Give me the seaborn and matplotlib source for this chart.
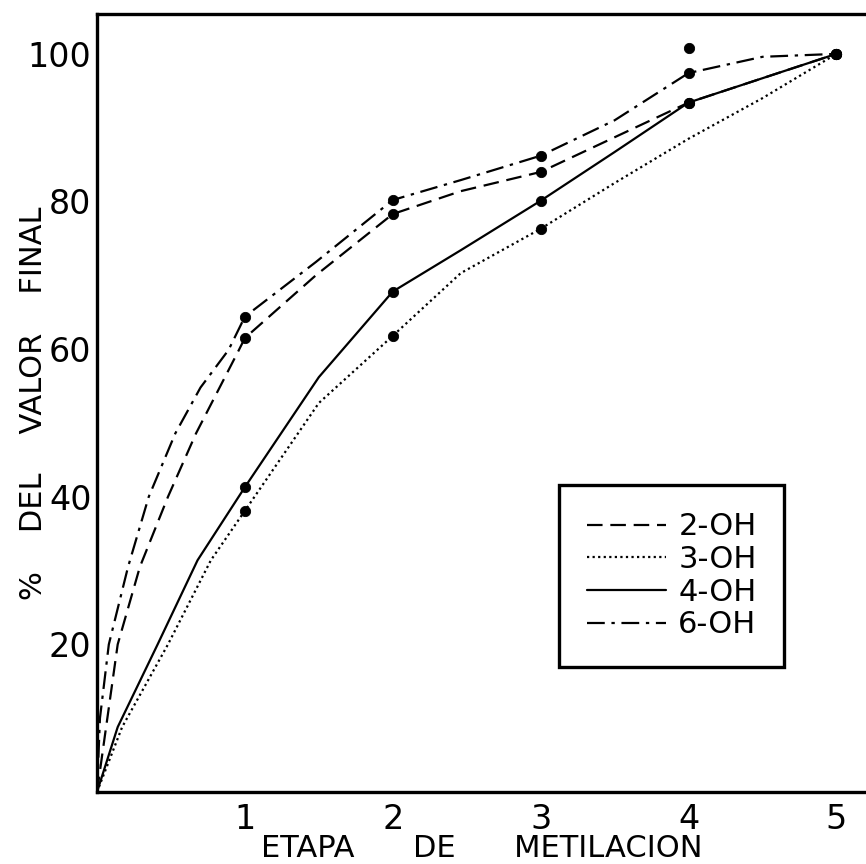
import pandas as pd
import seaborn as sns
import matplotlib.pyplot as plt
from matplotlib.lines import Line2D

# Curves (hand-drawn smooth lines)
x_2oh = [0, 0.07, 0.14, 0.29, 0.48, 0.67, 0.96, 1.0, 1.48, 2.0, 2.46, 3.0, 3.5, 4.0, 4.5, 5.0]
y_2oh = [0, 10, 20, 30.5, 40, 48.6, 59.9, 61.5, 70.0, 78.3, 81.4, 84.0, 88.7, 93.4, 96.7, 100]

x_3oh = [0, 0.17, 0.48, 0.77, 1.0, 1.5, 2.0, 2.46, 3.0, 3.5, 4.0, 4.5, 5.0]
y_3oh = [0, 8.8, 20, 31.4, 38.1, 52.7, 61.8, 70.3, 76.3, 82.5, 88.5, 94.0, 100]

x_4oh = [0, 0.14, 0.41, 0.68, 1.0, 1.5, 2.0, 2.46, 3.0, 3.5, 4.0, 4.5, 5.0]
y_4oh = [0, 8.8, 20, 31.4, 41.3, 56.2, 67.8, 73.4, 80.1, 86.7, 93.4, 96.7, 100]

x_6oh = [0, 0.02, 0.08, 0.21, 0.35, 0.53, 0.7, 0.89, 1.0, 1.48, 2.0, 2.46, 3.0, 3.5, 4.0, 4.5, 5.0]
y_6oh = [0, 10, 20, 30.5, 40, 48.6, 54.8, 59.9, 64.4, 71.8, 80.2, 82.9, 86.2, 91.0, 97.4, 99.6, 100]

# Measured points (dots)
etapa = [1, 2, 3, 4, 5]
pts_2oh = [61.5, 78.3, 84.0, 93.4, 100]
pts_3oh = [38.1, 61.8, 76.3, 100.8, 100]
pts_4oh = [41.3, 67.8, 80.1, 93.4, 100]
pts_6oh = [64.4, 80.2, 86.2, 97.4, 100]

labels = ["2-OH", "3-OH", "4-OH", "6-OH"]

sns.set_style("white")
plt.rcParams["font.family"] = ["DejaVu Sans"]
plt.rcParams["text.color"] = "black"
plt.rcParams["xtick.color"] = "black"
plt.rcParams["ytick.color"] = "black"
plt.rcParams["axes.labelcolor"] = "black"

fig = plt.figure(figsize=(8.66, 8.64), dpi=100)
ax = fig.add_axes([0.112, 0.0833, 0.888, 0.9005])

dashes = [(7, 3.5), (1, 1.5), (), (8, 3, 1.5, 3)]
curves = [(x_2oh, y_2oh), (x_3oh, y_3oh), (x_4oh, y_4oh), (x_6oh, y_6oh)]
points = [pts_2oh, pts_3oh, pts_4oh, pts_6oh]

handles = []
for (cx, cy), pts, dsh, lab in zip(curves, points, dashes, labels):
    sns.lineplot(x=cx, y=cy, ax=ax, color="black", lw=1.6, sort=False)
    line = ax.lines[-1]
    if dsh:
        line.set_dashes(dsh)
    sns.scatterplot(x=etapa, y=pts, ax=ax, color="black", s=55, edgecolor="black", zorder=5)
    h = Line2D([0], [0], color="black", lw=1.6)
    if dsh:
        h.set_dashes(dsh)
    handles.append(h)

ax.set_xlim(0, 5.2)
ax.set_ylim(0, 105.4)
ax.set_xticks([1, 2, 3, 4, 5])
ax.set_yticks([20, 40, 60, 80, 100])
ax.tick_params(direction="in", length=9, width=2.2, labelsize=24, pad=4)
ax.tick_params(axis="x", pad=8)

for side in ["left", "bottom", "top"]:
    ax.spines[side].set_linewidth(2.4)
    ax.spines[side].set_color("black")
ax.spines["right"].set_visible(False)

ax.set_xlabel("ETAPA      DE      METILACION", fontsize=22)
ax.xaxis.set_label_coords(0.5, -0.054)
ax.set_ylabel("%    DEL    VALOR    FINAL", fontsize=22)
ax.yaxis.set_label_coords(-0.064, 0.5)

leg = ax.legend(handles, labels, loc="lower left", bbox_to_anchor=(0.601, 0.161),
                fontsize=22, frameon=True, fancybox=False, framealpha=1,
                handlelength=2.6, labelspacing=0.12, borderpad=0.9,
                handletextpad=0.4, borderaxespad=0)
leg.get_frame().set_edgecolor("black")
leg.get_frame().set_linewidth(2.4)

fig.savefig("out.png", dpi=100)
